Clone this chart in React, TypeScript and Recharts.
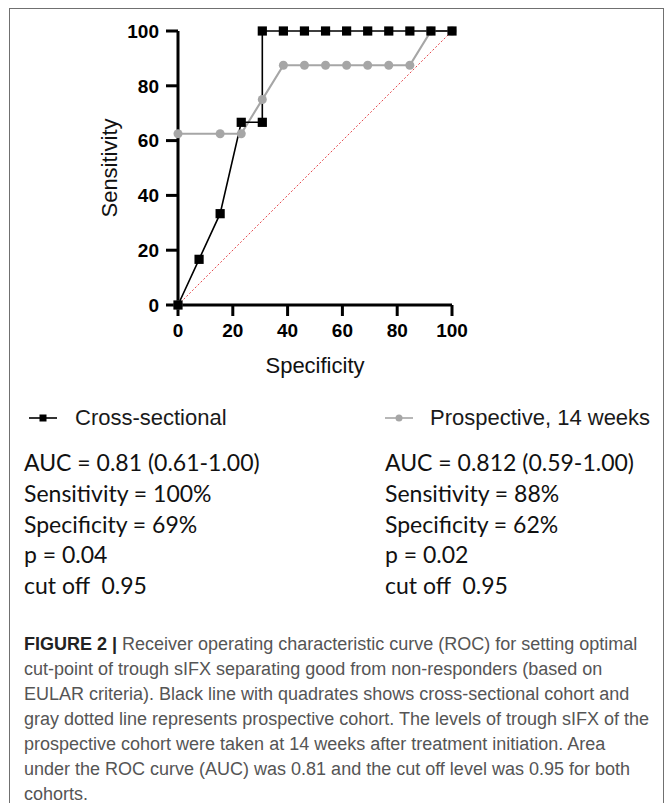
import React from "react";
import { Line, LineChart, XAxis, YAxis } from "recharts";

// ROC curves: specificity (x) vs sensitivity (y), both in %.
const specTicks = [0, 20, 40, 60, 80, 100];
const sensTicks = [0, 20, 40, 60, 80, 100];

const crossSpec = [0, 7.69, 15.38, 23.08, 30.77, 30.77, 38.46, 46.15, 53.85, 61.54, 69.23, 76.92, 84.62, 92.31, 100];
const crossSens = [0, 16.67, 33.33, 66.67, 66.67, 100, 100, 100, 100, 100, 100, 100, 100, 100, 100];

const prospSpec = [0, 0, 15.38, 23.08, 30.77, 38.46, 46.15, 53.85, 61.54, 69.23, 76.92, 84.62, 92.31, 100];
const prospSens = [0, 62.5, 62.5, 62.5, 75, 87.5, 87.5, 87.5, 87.5, 87.5, 87.5, 87.5, 100, 100];

const chanceSpec = [0, 100];
const chanceSens = [0, 100];

const crossStats = ["AUC = 0.81 (0.61-1.00)", "Sensitivity = 100%", "Specificity = 69%", "p = 0.04", "cut off  0.95"];
const prospStats = ["AUC = 0.812 (0.59-1.00)", "Sensitivity = 88%", "Specificity = 62%", "p = 0.02", "cut off  0.95"];

const captionLines = [
  "Receiver operating characteristic curve (ROC) for setting optimal",
  "cut-point of trough sIFX separating good from non-responders (based on",
  "EULAR criteria). Black line with quadrates shows cross-sectional cohort and",
  "gray dotted line represents prospective cohort. The levels of trough sIFX of the",
  "prospective cohort were taken at 14 weeks after treatment initiation. Area",
  "under the ROC curve (AUC) was 0.81 and the cut off level was 0.95 for both",
  "cohorts.",
];

const zip = (xs: number[], ys: number[]) => xs.map((spec, i) => ({ spec, sens: ys[i] }));
const crossData = zip(crossSpec, crossSens);
const prospData = zip(prospSpec, prospSens);
const chanceData = zip(chanceSpec, chanceSens);

const ARIAL = "'Liberation Sans', Arial, sans-serif";
const STATS = "Lato, 'Open Sans', sans-serif";
const GRAY = "#a6a6a6";

const SquareDot = (p: any) =>
  p.cx == null ? null : <rect key={`sq-${p.index}`} x={p.cx - 4.6} y={p.cy - 4.6} width={9.2} height={9.2} fill="#000" />;

const axisTick = { fill: "#000", fontSize: 19, fontWeight: 700, fontFamily: ARIAL };
const axisStroke = { stroke: "#000", strokeWidth: 3 };

function StatsBlock({ x, lines }: { x: number; lines: string[] }) {
  return (
    <>
      {lines.map((t, i) => (
        <div
          key={t + i}
          style={{ position: "absolute", left: x, top: 446 + i * 30.8, height: 32, lineHeight: "32px", fontFamily: STATS, fontSize: 23, color: "#111", whiteSpace: "pre" }}
        >
          {t}
        </div>
      ))}
    </>
  );
}

export default function App() {
  return (
    <div style={{ position: "absolute", left: 0, top: 0, width: 665, height: 803, background: "#fff", overflow: "hidden" }}>
      <div style={{ position: "absolute", left: 9, top: 8, width: 653, height: 830, border: "1.5px solid #707070" }} />

      <div style={{ position: "absolute", left: 0, top: 0 }}>
        <LineChart width={470} height={390} margin={{ top: 31, right: 18, left: 0, bottom: 0 }}>
          <XAxis
            type="number"
            dataKey="spec"
            domain={[0, 100]}
            ticks={specTicks}
            interval={0}
            height={85}
            tickSize={11}
            tickMargin={8}
            axisLine={axisStroke}
            tickLine={axisStroke}
            tick={axisTick}
            label={{ value: "Specificity", position: "insideBottom", offset: 17, fill: "#111", style: { fontSize: 22, fontFamily: ARIAL } }}
          />
          <YAxis
            type="number"
            dataKey="sens"
            domain={[0, 100]}
            ticks={sensTicks}
            interval={0}
            width={178}
            tickSize={12}
            tickMargin={7}
            axisLine={axisStroke}
            tickLine={axisStroke}
            tick={axisTick}
            label={{ value: "Sensitivity", angle: -90, position: "insideLeft", offset: 109, fill: "#111", style: { fontSize: 22, fontFamily: ARIAL, textAnchor: "middle" } }}
          />
          <Line data={chanceData} dataKey="sens" stroke="#e5484d" strokeWidth={1} strokeDasharray="2 2" dot={false} activeDot={false} isAnimationActive={false} />
          <Line data={prospData} dataKey="sens" type="linear" stroke={GRAY} strokeWidth={2.2} dot={{ r: 4.5, fill: GRAY, stroke: "none" }} activeDot={false} isAnimationActive={false} />
          <Line data={crossData} dataKey="sens" type="linear" stroke="#000" strokeWidth={1.6} dot={SquareDot} activeDot={false} isAnimationActive={false} />
        </LineChart>
      </div>

      {/* legend */}
      <svg style={{ position: "absolute", left: 0, top: 400 }} width={665} height={40}>
        <line x1={29} x2={57} y1={18} y2={18} stroke="#000" strokeWidth={1.6} />
        <rect x={39.5} y={14.5} width={7} height={7} fill="#000" />
        <line x1={385} x2={413} y1={18} y2={18} stroke={GRAY} strokeWidth={1.6} />
        <circle cx={399} cy={18} r={3.5} fill={GRAY} />
      </svg>
      <div style={{ position: "absolute", left: 75, top: 403, lineHeight: "30px", fontFamily: ARIAL, fontSize: 22, color: "#1a1a1a" }}>Cross-sectional</div>
      <div style={{ position: "absolute", left: 430, top: 403, lineHeight: "30px", fontFamily: ARIAL, fontSize: 22, color: "#1a1a1a" }}>Prospective, 14 weeks</div>

      <StatsBlock x={24} lines={crossStats} />
      <StatsBlock x={385} lines={prospStats} />

      {/* caption */}
      {captionLines.map((t, i) => (
        <div
          key={i}
          style={{ position: "absolute", left: 24, top: 632 + i * 25, lineHeight: "25px", fontFamily: ARIAL, fontSize: 18, color: "#555", whiteSpace: "nowrap" }}
        >
          {i === 0 && <span style={{ fontWeight: 700, color: "#222" }}>FIGURE 2 | </span>}
          {t}
        </div>
      ))}
    </div>
  );
}
